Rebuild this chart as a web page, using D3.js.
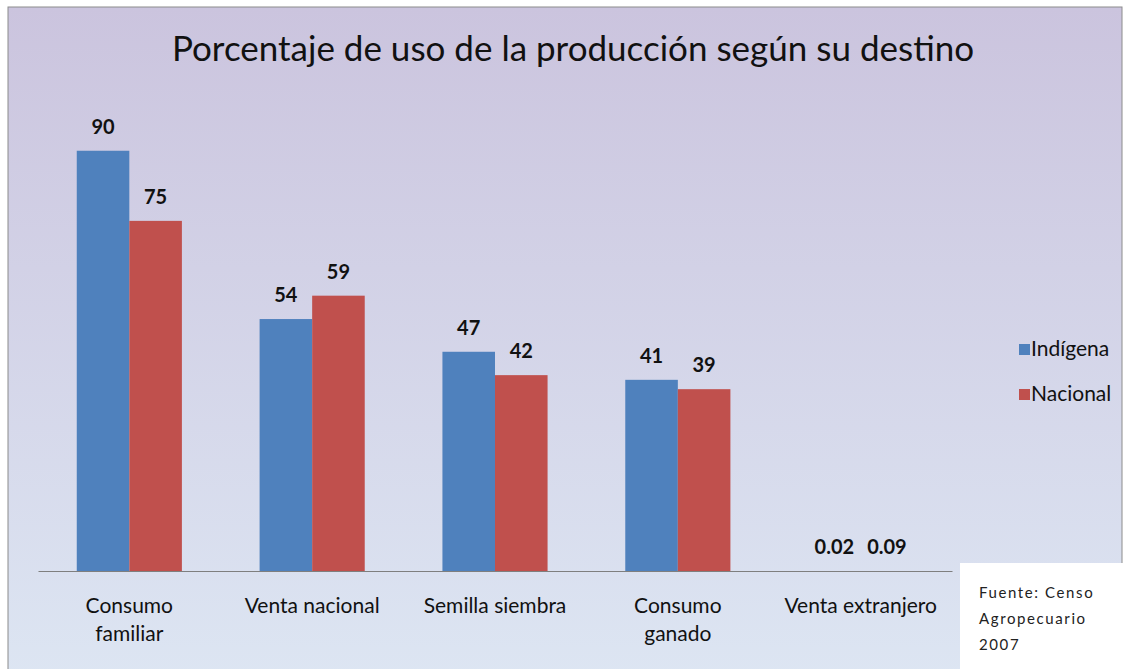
<!DOCTYPE html>
<html>
<head>
<meta charset="utf-8">
<script src="https://cdn.jsdelivr.net/npm/d3@7"></script>
<style>
  body { margin: 0; background: #fff; }
  svg { display: block; }
  svg text { font-family: Lato, "Open Sans", sans-serif; }
</style>
</head>
<body>
<svg id="chart" width="1130" height="669"></svg>
<script>
// datos del gráfico
var categorias = ["Consumo familiar", "Venta nacional", "Semilla siembra", "Consumo ganado", "Venta extranjero"];
var etiquetas = [["Consumo", "familiar"], ["Venta nacional"], ["Semilla siembra"], ["Consumo", "ganado"], ["Venta extranjero"]];
var series = ["Indígena", "Nacional"];
var indigena = [90, 54, 47, 41, 0.02];
var nacional = [75, 59, 42, 39, 0.09];
var colores = ["#4F81BD", "#C0504D"];

var svg = d3.select("#chart"),
    margin = {top: 104, right: 178, bottom: 98, left: 38},
    width = 1130 - margin.left - margin.right,
    height = 669 - margin.top - margin.bottom;

// fondo degradado
var defs = svg.append("defs");
var grad = defs.append("linearGradient").attr("id", "fondo")
    .attr("x1", 0).attr("y1", 0).attr("x2", 0).attr("y2", 1);
grad.append("stop").attr("offset", "0%").attr("stop-color", "#CBC4DE");
grad.append("stop").attr("offset", "100%").attr("stop-color", "#DDE6F3");

svg.append("rect").attr("x", 8).attr("y", 7).attr("width", 1114).attr("height", 680)
    .attr("fill", "url(#fondo)").attr("stroke", "#8c8c8c").attr("stroke-width", 1);

svg.append("text")
    .attr("x", 573).attr("y", 61)
    .attr("text-anchor", "middle")
    .attr("font-size", 35)
    .attr("fill", "#111")
    .text("Porcentaje de uso de la producción según su destino");

var g = svg.append("g").attr("transform", "translate(" + margin.left + "," + margin.top + ")");

var x0 = d3.scaleBand().domain(categorias).range([0, width]).paddingInner(0.425).paddingOuter(0.212),
    x1 = d3.scaleBand().domain(series).range([0, x0.bandwidth()]),
    y = d3.scaleLinear().domain([0, 100]).range([height + 0.5, 0]),
    color = d3.scaleOrdinal().domain(series).range(colores);

var datos = categorias.map(function(c, i) {
  return {cat: c, valores: [{s: series[0], v: indigena[i]}, {s: series[1], v: nacional[i]}]};
});

var grupos = g.selectAll(".grupo").data(datos).enter().append("g")
    .attr("transform", function(d) { return "translate(" + x0(d.cat) + ",0)"; });

grupos.selectAll("rect").data(function(d) { return d.valores; }).enter().append("rect")
    .attr("x", function(d) { return x1(d.s); })
    .attr("y", function(d) { return y(d.v); })
    .attr("width", x1.bandwidth())
    .attr("height", function(d) { return y(0) - y(d.v); })
    .attr("fill", function(d) { return color(d.s); });

grupos.selectAll(".valor").data(function(d) { return d.valores; }).enter().append("text")
    .attr("class", "valor")
    .attr("x", function(d) { return x1(d.s) + x1.bandwidth() / 2; })
    .attr("y", function(d) { return y(d.v) - 17; })
    .attr("text-anchor", "middle")
    .attr("font-size", 20)
    .attr("font-weight", "bold")
    .attr("fill", "#111")
    .text(function(d) { return d.v; });

// eje x
var eje = g.append("g")
    .attr("transform", "translate(0," + height + ")")
    .call(d3.axisBottom(x0).tickSize(0).tickFormat(""));
eje.select(".domain").attr("stroke", "#7f7f7f").attr("stroke-width", 1.2);

eje.selectAll(".tick").each(function(d, i) {
  var t = d3.select(this).append("text")
      .attr("fill", "#111").attr("font-size", 21).attr("text-anchor", "middle");
  etiquetas[i].forEach(function(l, j) {
    t.append("tspan").attr("x", 0).attr("y", 42 + j * 28).text(l);
  });
});

// leyenda
var leyenda = svg.append("g").selectAll("g").data(series).enter().append("g")
    .attr("transform", function(d, i) { return "translate(1019," + (344 + i * 45) + ")"; });
leyenda.append("rect").attr("width", 11).attr("height", 11).attr("fill", color);
leyenda.append("text").attr("x", 12).attr("y", 12)
    .attr("font-size", 21).attr("fill", "#111")
    .text(function(d) { return d; });

// fuente
svg.append("rect").attr("x", 960).attr("y", 563).attr("width", 170).attr("height", 106).attr("fill", "#fff");
var fuente = svg.append("text").attr("font-size", 15).attr("fill", "#222").attr("letter-spacing", 1.6);
["Fuente: Censo", "Agropecuario", "2007"].forEach(function(l, j) {
  fuente.append("tspan").attr("x", 979).attr("y", 598 + j * 26).text(l);
});
</script>
</body>
</html>
